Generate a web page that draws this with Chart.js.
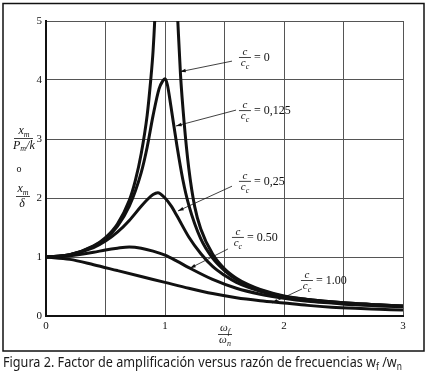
<!DOCTYPE html>
<html>
<head>
<meta charset="utf-8">
<script src="https://cdn.jsdelivr.net/npm/chart.js@4.4.0/dist/chart.umd.min.js"></script>
<style>
  html, body { margin: 0; padding: 0; background: #fff; }
  #wrap { position: relative; width: 429px; height: 373px; }
</style>
</head>
<body>
<div id="wrap"><canvas id="ampChart" width="429" height="373"></canvas></div>
<script>
// valores: razon de frecuencias (x) y factor de amplificacion (y)
const xTicks = [0, 0.5, 1, 1.5, 2, 2.5, 3];
const yTicks = [0, 1, 2, 3, 4, 5];

// c/cc = 0 (dos ramas, asintota en 1)
const r00a = [0, 0.2, 0.4, 0.5, 0.6, 0.7, 0.75, 0.8, 0.85, 0.88, 0.9, 0.92, 0.94];
const a00a = [1, 1.04, 1.19, 1.33, 1.56, 1.96, 2.29, 2.75, 3.4, 4.0, 4.5, 5.3, 6.5];
const r00b = [1.07, 1.09, 1.11, 1.13, 1.16, 1.2, 1.25, 1.3, 1.4, 1.5, 1.6, 1.7, 1.8, 2.0, 2.2, 2.4, 2.6, 2.8, 3.0];
const a00b = [7, 5.8, 4.9, 4.1, 3.3, 2.5, 1.85, 1.48, 1.05, 0.8, 0.64, 0.53, 0.45, 0.34, 0.28, 0.24, 0.21, 0.19, 0.17];

// c/cc = 0,125
const r0125 = [0, 0.2, 0.4, 0.5, 0.6, 0.7, 0.8, 0.85, 0.9, 0.95, 0.98, 1.0, 1.02, 1.05, 1.1, 1.15, 1.2, 1.3, 1.4, 1.5, 1.6, 1.8, 2.0, 2.2, 2.4, 2.6, 2.8, 3.0];
const a0125 = [1, 1.04, 1.18, 1.31, 1.52, 1.86, 2.43, 2.86, 3.40, 3.85, 3.98, 4.02, 3.92, 3.55, 2.89, 2.31, 1.88, 1.31, 0.98, 0.77, 0.62, 0.44, 0.33, 0.28, 0.24, 0.21, 0.19, 0.17];

// c/cc = 0,25
const r025 = [0, 0.2, 0.4, 0.5, 0.6, 0.7, 0.8, 0.85, 0.9, 0.94, 1.0, 1.05, 1.1, 1.2, 1.3, 1.4, 1.5, 1.6, 1.8, 2.0, 2.2, 2.4, 2.6, 2.8, 3.0];
const a025 = [1, 1.04, 1.16, 1.27, 1.42, 1.62, 1.86, 1.97, 2.06, 2.09, 2.0, 1.87, 1.70, 1.34, 1.06, 0.84, 0.69, 0.57, 0.42, 0.32, 0.27, 0.23, 0.20, 0.18, 0.165];

// c/cc = 0,50
const r050 = [0, 0.2, 0.4, 0.5, 0.6, 0.7, 0.8, 0.9, 1.0, 1.1, 1.2, 1.4, 1.6, 1.8, 2.0, 2.2, 2.4, 2.6, 2.8, 3.0];
const a050 = [1, 1.02, 1.08, 1.12, 1.15, 1.17, 1.15, 1.10, 1.03, 0.93, 0.82, 0.62, 0.47, 0.37, 0.30, 0.25, 0.22, 0.19, 0.17, 0.155];

// c/cc = 1,00
const r100 = [0, 0.2, 0.4, 0.6, 0.8, 1.0, 1.2, 1.4, 1.6, 1.8, 2.0, 2.2, 2.4, 2.6, 2.8, 3.0];
const a100 = [1, 0.96, 0.87, 0.77, 0.67, 0.57, 0.47, 0.38, 0.31, 0.26, 0.22, 0.18, 0.15, 0.13, 0.115, 0.10];

const dampLabels = ['0', '0,125', '0,25', '0.50', '1.00'];

function pts(xs, ys) {
  return xs.map((x, i) => ({x: x, y: ys[i]}));
}

// donde va cada etiqueta (en unidades de los ejes): fraccion, flecha inicio, flecha fin
const notePos = [
  {fx: 1.672, fy: 4.39, x1: 1.563, y1: 4.32, x2: 1.126, y2: 4.14},
  {fx: 1.672, fy: 3.49, x1: 1.597, y1: 3.49, x2: 1.092, y2: 3.22},
  {fx: 1.672, fy: 2.29, x1: 1.563, y1: 2.20, x2: 1.109, y2: 1.78},
  {fx: 1.613, fy: 1.34, x1: 1.529, y1: 1.136, x2: 1.21, y2: 0.81},
  {fx: 2.193, fy: 0.61, x1: 2.151, y1: 0.458, x2: 1.899, y2: 0.22}
];

const SERIF = '"Liberation Serif", "DejaVu Serif", serif';

// texto con subindice, devuelve el ancho
function subWidth(ctx, base, sub, size) {
  ctx.font = 'italic ' + size + 'px ' + SERIF;
  let w = ctx.measureText(base).width;
  ctx.font = 'italic ' + Math.round(size * 0.7) + 'px ' + SERIF;
  return w + ctx.measureText(sub).width;
}
function drawSub(ctx, base, sub, cx, y, size) {
  const w = subWidth(ctx, base, sub, size);
  let x = cx - w / 2;
  ctx.textAlign = 'left';
  ctx.textBaseline = 'alphabetic';
  ctx.font = 'italic ' + size + 'px ' + SERIF;
  ctx.fillText(base, x, y);
  x += ctx.measureText(base).width;
  ctx.font = 'italic ' + Math.round(size * 0.7) + 'px ' + SERIF;
  ctx.fillText(sub, x, y + size * 0.25);
}

function arrow(ctx, x1, y1, x2, y2) {
  ctx.beginPath();
  ctx.moveTo(x1, y1);
  ctx.lineTo(x2, y2);
  ctx.lineWidth = 0.8;
  ctx.stroke();
  const a = Math.atan2(y2 - y1, x2 - x1);
  ctx.beginPath();
  ctx.moveTo(x2, y2);
  ctx.lineTo(x2 - 6 * Math.cos(a - 0.3), y2 - 6 * Math.sin(a - 0.3));
  ctx.lineTo(x2 - 6 * Math.cos(a + 0.3), y2 - 6 * Math.sin(a + 0.3));
  ctx.closePath();
  ctx.fill();
}

const figuraPlugin = {
  id: 'figura',
  beforeDraw(chart) {
    const ctx = chart.ctx;
    ctx.save();
    ctx.fillStyle = '#fff';
    ctx.fillRect(0, 0, chart.width, chart.height);
    ctx.restore();
  },
  afterDraw(chart) {
    const ctx = chart.ctx;
    const xs = chart.scales.x, ys = chart.scales.y;
    ctx.save();
    ctx.fillStyle = '#111';
    ctx.strokeStyle = '#111';

    // etiquetas c/cc con flecha
    notePos.forEach((n, i) => {
      const fx = xs.getPixelForValue(n.fx), fy = ys.getPixelForValue(n.fy);
      ctx.font = 'italic 11px ' + SERIF;
      ctx.textAlign = 'center';
      ctx.textBaseline = 'alphabetic';
      ctx.fillText('c', fx, fy - 2);
      ctx.beginPath();
      ctx.moveTo(fx - 6, fy + 0.5);
      ctx.lineTo(fx + 6, fy + 0.5);
      ctx.lineWidth = 0.8;
      ctx.stroke();
      drawSub(ctx, 'c', 'c', fx, fy + 9, 11);
      ctx.font = '12px ' + SERIF;
      ctx.textAlign = 'left';
      ctx.textBaseline = 'middle';
      ctx.fillText('= ' + dampLabels[i], fx + 9, fy + 1);
      arrow(ctx, xs.getPixelForValue(n.x1), ys.getPixelForValue(n.y1),
        xs.getPixelForValue(n.x2), ys.getPixelForValue(n.y2));
    });

    // titulo eje y
    drawSub(ctx, 'x', 'm', 24, 134, 12);
    ctx.beginPath(); ctx.moveTo(14, 138.5); ctx.lineTo(33, 138.5); ctx.lineWidth = 0.8; ctx.stroke();
    ctx.font = 'italic 12px ' + SERIF;
    ctx.textAlign = 'left';
    ctx.textBaseline = 'alphabetic';
    let px = 13;
    ctx.fillText('P', px, 149); px += ctx.measureText('P').width;
    ctx.font = 'italic 8px ' + SERIF;
    ctx.fillText('m', px, 151); px += ctx.measureText('m').width;
    ctx.font = 'italic 12px ' + SERIF;
    ctx.fillText('/k', px, 149);
    ctx.font = '10px ' + SERIF;
    ctx.textAlign = 'center';
    ctx.fillText('o', 19, 172);
    drawSub(ctx, 'x', 'm', 23, 192, 12);
    ctx.beginPath(); ctx.moveTo(16, 196.5); ctx.lineTo(30, 196.5); ctx.stroke();
    ctx.font = 'italic 12px ' + SERIF;
    ctx.textAlign = 'center';
    ctx.fillText('\u03b4', 22, 207);

    // titulo eje x
    drawSub(ctx, '\u03c9', 'f', 225, 331, 11);
    ctx.beginPath(); ctx.moveTo(218, 334.5); ctx.lineTo(232, 334.5); ctx.stroke();
    drawSub(ctx, '\u03c9', 'n', 225, 343, 11);

    // marco
    ctx.strokeStyle = '#111';
    ctx.lineWidth = 1.5;
    ctx.strokeRect(3, 3.5, 421, 347.5);

    // pie de figura
    const cap = 'Figura 2. Factor de amplificaci\u00f3n versus raz\u00f3n de frecuencias w';
    ctx.font = '15px "Noto Sans", sans-serif';
    ctx.textAlign = 'left';
    ctx.textBaseline = 'alphabetic';
    const w1 = ctx.measureText(cap).width;
    ctx.font = '10px "Noto Sans", sans-serif';
    const w2 = ctx.measureText('f').width;
    ctx.font = '15px "Noto Sans", sans-serif';
    const w3 = ctx.measureText(' /w').width;
    ctx.font = '10px "Noto Sans", sans-serif';
    const w4 = ctx.measureText('n').width;
    const sx = 399 / (w1 + w2 + w3 + w4);
    ctx.translate(3, 367);
    ctx.scale(sx, 1);
    ctx.fillStyle = '#1a1a1a';
    ctx.font = '15px "Noto Sans", sans-serif';
    ctx.fillText(cap, 0, 0);
    ctx.font = '10px "Noto Sans", sans-serif';
    ctx.fillText('f', w1, 3);
    ctx.font = '15px "Noto Sans", sans-serif';
    ctx.fillText(' /w', w1 + w2, 0);
    ctx.font = '10px "Noto Sans", sans-serif';
    ctx.fillText('n', w1 + w2 + w3, 3);
    ctx.restore();
  }
};

const lineStyle = {borderColor: '#111', borderWidth: 3, pointRadius: 0, fill: false, cubicInterpolationMode: 'monotone', clip: 0};

const ampChart = new Chart(document.getElementById('ampChart').getContext('2d'), {
  type: 'line',
  data: {
    datasets: [
      Object.assign({label: 'c/cc = 0', data: pts(r00a, a00a)}, lineStyle),
      Object.assign({label: 'c/cc = 0 ', data: pts(r00b, a00b)}, lineStyle),
      Object.assign({label: 'c/cc = 0,125', data: pts(r0125, a0125)}, lineStyle),
      Object.assign({label: 'c/cc = 0,25', data: pts(r025, a025)}, lineStyle),
      Object.assign({label: 'c/cc = 0,50', data: pts(r050, a050)}, lineStyle),
      Object.assign({label: 'c/cc = 1,00', data: pts(r100, a100)}, lineStyle)
    ]
  },
  options: {
    responsive: false,
    animation: false,
    devicePixelRatio: 1,
    layout: {padding: {left: 0, right: 26, top: 21, bottom: 37}},
    plugins: {legend: {display: false}, tooltip: {enabled: false}},
    scales: {
      x: {
        type: 'linear', min: 0, max: 3,
        afterFit(s) { s.height = 20; },
        afterBuildTicks(s) { s.ticks = xTicks.map(v => ({value: v})); },
        ticks: {
          autoSkip: false, maxRotation: 0, padding: 4, color: '#111',
          font: {family: SERIF, size: 11},
          callback: v => Number.isInteger(v) ? String(v) : ''
        },
        grid: {color: '#555', lineWidth: 1, drawTicks: false},
        border: {color: '#111', width: 2}
      },
      y: {
        min: 0, max: 5,
        afterFit(s) { s.width = 46; },
        afterBuildTicks(s) { s.ticks = yTicks.map(v => ({value: v})); },
        ticks: {padding: 4, color: '#111', font: {family: SERIF, size: 11}},
        grid: {color: '#555', lineWidth: 1, drawTicks: false},
        border: {color: '#111', width: 2}
      }
    }
  },
  plugins: [figuraPlugin]
});
</script>
</body>
</html>
